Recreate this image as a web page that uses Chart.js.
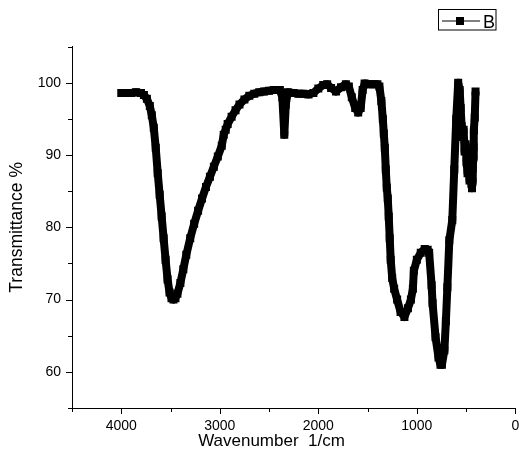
<!DOCTYPE html>
<html>
<head>
<meta charset="utf-8">
<script src="https://cdn.jsdelivr.net/npm/chart.js@4/dist/chart.umd.min.js"></script>
<style>
  html, body { margin: 0; padding: 0; background: #fff; }
  #wrap { width: 521px; height: 460px; }
</style>
</head>
<body>
<div id="wrap"><canvas id="c" width="521" height="460"></canvas></div>
<script>
// Wavenumbers (1/cm) and transmittance (%)
const wavenumbers = [
  4000, 3950, 3900, 3850, 3800, 3770, 3740, 3710, 3690, 3670, 3650, 3630, 3610, 3590, 3570, 3550, 3530, 3510, 3490, 3470,
  3450, 3430, 3400, 3370, 3340, 3300, 3260, 3220, 3180, 3140, 3100, 3060, 3020, 2980, 2960, 2940, 2920, 2880, 2840, 2800,
  2750, 2700, 2650, 2600, 2550, 2500, 2450, 2390, 2365, 2345, 2330, 2310, 2250, 2200, 2150, 2100, 2050, 2000, 1950, 1910,
  1870, 1820, 1770, 1720, 1690, 1660, 1625, 1595, 1570, 1550, 1530, 1480, 1440, 1400, 1380, 1360, 1345, 1335, 1325, 1315,
  1305, 1295, 1285, 1275, 1265, 1250, 1230, 1200, 1165, 1126, 1090, 1060, 1040, 1030, 1000, 960, 920, 890, 875, 850,
  840, 810, 780, 760, 745, 720, 705, 690, 670, 640, 620, 600, 580, 565, 555, 545, 535, 525, 515, 505,
  495, 485, 475, 465, 455, 445, 440, 436, 432, 428, 424, 420, 412, 404
];
const transmittance = [
  98.6, 98.6, 98.6, 98.7, 98.6, 98.3, 97.8, 96.8, 95.5, 93.8, 91.0, 87.5, 84.5, 81.5, 78.5, 75.5, 72.8, 71.0, 70.2, 70.0,
  70.2, 70.8, 72.3, 74.2, 76.2, 78.5, 80.5, 82.3, 84.0, 85.6, 87.0, 88.4, 89.8, 91.3, 92.8, 93.5, 94.3, 95.3, 96.2, 97.0,
  97.7, 98.2, 98.5, 98.7, 98.8, 98.9, 99.0, 99.0, 98.0, 92.8, 97.0, 98.7, 98.6, 98.5, 98.5, 98.4, 98.6, 99.2, 99.7, 99.8,
  99.3, 98.8, 99.4, 99.8, 99.5, 98.0, 96.5, 95.9, 96.5, 99.0, 99.9, 99.8, 99.8, 99.8, 99.5, 97.5, 95.0, 93.0, 91.0, 88.0,
  85.5, 84.0, 81.5, 78.5, 75.5, 73.0, 71.5, 70.0, 68.3, 67.6, 68.8, 70.0, 71.5, 74.0, 75.5, 76.5, 77.0, 76.9, 76.5, 72.0,
  69.5, 64.8, 62.0, 61.0, 61.0, 63.0, 67.0, 71.7, 78.2, 81.0, 88.0, 95.0, 100.0, 99.0, 96.5, 94.0, 92.5, 93.5, 90.5, 91.5,
  89.0, 87.5, 89.5, 86.5, 88.0, 86.0, 85.4, 86.3, 88.1, 89.5, 91.1, 93.4, 95.2, 98.8
];
const seriesName = 'B';
const xTitle = 'Wavenumber  1/cm';
const yTitle = 'Transmittance %';
const xTickLabels = [0, 1000, 2000, 3000, 4000];
const yTickLabels = [60, 70, 80, 90, 100];

const points = wavenumbers.map((w, i) => ({ x: w, y: transmittance[i] }));
const FONT = '"Liberation Sans", Arial, sans-serif';

const decor = {
  id: 'decor',
  afterDraw(chart) {
    const ctx = chart.ctx;
    const xs = chart.scales.x, ys = chart.scales.y;
    const ca = chart.chartArea;
    ctx.save();
    ctx.strokeStyle = '#000';
    ctx.lineWidth = 1;
    // tick marks (major and minor)
    xs.ticks.forEach(t => {
      const px = Math.round(xs.getPixelForValue(t.value)) + 0.5;
      const len = xTickLabels.includes(t.value) ? 6 : 4;
      ctx.beginPath(); ctx.moveTo(px, ca.bottom); ctx.lineTo(px, ca.bottom + len); ctx.stroke();
    });
    ys.ticks.forEach(t => {
      const py = Math.round(ys.getPixelForValue(t.value)) + 0.5;
      const len = yTickLabels.includes(t.value) ? 6 : 4;
      ctx.beginPath(); ctx.moveTo(ca.left, py); ctx.lineTo(ca.left - len, py); ctx.stroke();
    });
    // x axis title
    ctx.fillStyle = '#000';
    ctx.font = '17px ' + FONT;
    ctx.textAlign = 'center';
    ctx.textBaseline = 'middle';
    ctx.fillText(xTitle, 271.5, 441);
    // legend
    ctx.strokeRect(438.5, 9.5, 57.5, 20.5);
    ctx.lineWidth = 1;
    ctx.beginPath(); ctx.moveTo(442, 21); ctx.lineTo(480, 21); ctx.stroke();
    ctx.fillRect(456, 17, 8, 8);
    ctx.font = '18px ' + FONT;
    ctx.textAlign = 'left';
    ctx.textBaseline = 'alphabetic';
    ctx.fillText(seriesName, 483, 28);
    ctx.restore();
  }
};

new Chart(document.getElementById('c'), {
  type: 'line',
  data: {
    datasets: [{
      label: seriesName,
      data: points,
      borderColor: '#000',
      backgroundColor: '#000',
      borderWidth: 8,
      borderJoinStyle: 'round',
      borderCapStyle: 'butt',
      tension: 0,
      pointStyle: 'rect',
      pointRadius: 5.66,
      pointBorderWidth: 0,
      pointBackgroundColor: '#000'
    }]
  },
  options: {
    responsive: false,
    animation: false,
    devicePixelRatio: 1,
    layout: { padding: { top: 46.7, right: 3.3, left: 0, bottom: 0 } },
    plugins: { legend: { display: false }, tooltip: { enabled: false } },
    scales: {
      x: {
        type: 'linear',
        reverse: true,
        min: 0, max: 4500,
        afterFit(s) { s.height = 52; s.paddingLeft = 0; s.paddingRight = 0; },
        border: { display: true, color: '#000', width: 1 },
        grid: { display: true, drawOnChartArea: false, drawTicks: true, tickLength: 6, tickColor: 'rgba(0,0,0,0)' },
        ticks: {
          stepSize: 500, autoSkip: false, maxRotation: 0, padding: 4,
          color: '#000', font: { family: FONT, size: 14 },
          callback: v => xTickLabels.includes(v) ? String(v) : ''
        }
      },
      y: {
        type: 'linear',
        min: 55, max: 105,
        afterFit(s) { s.width = 72; s.paddingTop = 0; s.paddingBottom = 0; },
        border: { display: true, color: '#000', width: 1 },
        grid: { display: true, drawOnChartArea: false, drawTicks: true, tickLength: 6, tickColor: 'rgba(0,0,0,0)' },
        title: { display: true, text: yTitle, color: '#000', font: { family: FONT, size: 17.5 }, padding: { top: 7, bottom: 0 } },
        ticks: {
          stepSize: 5, autoSkip: false, padding: 5,
          color: '#000', font: { family: FONT, size: 14 },
          callback: v => yTickLabels.includes(v) ? String(v) : ''
        }
      }
    }
  },
  plugins: [decor]
});
</script>
</body>
</html>
